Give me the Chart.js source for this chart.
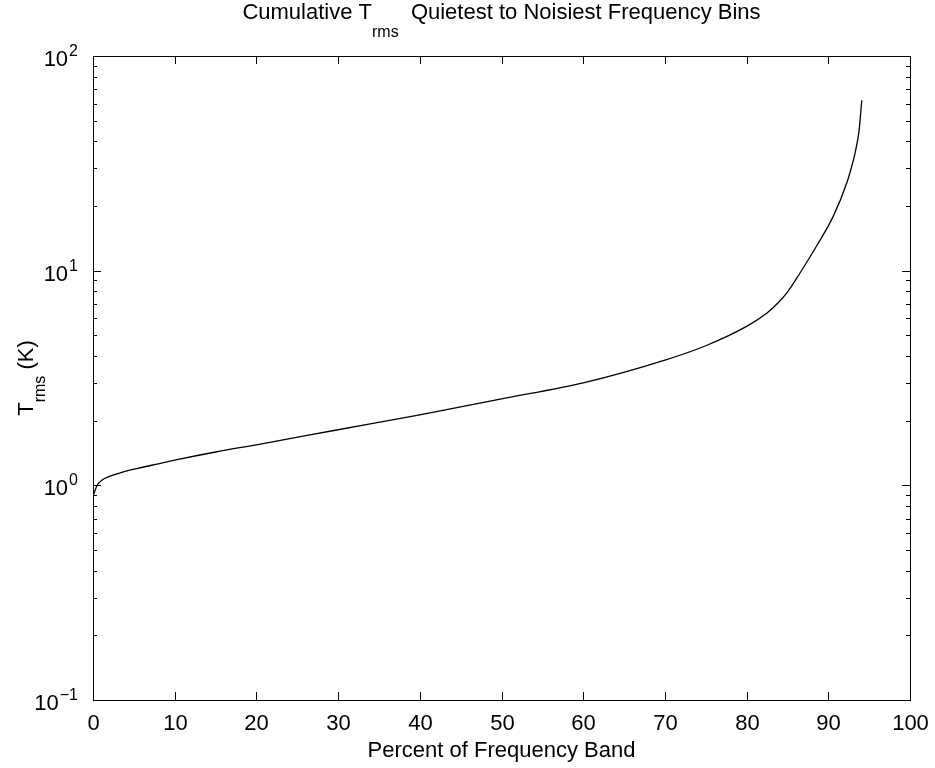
<!DOCTYPE html>
<html>
<head>
<meta charset="utf-8">
<script src="https://cdn.jsdelivr.net/npm/chart.js@4"></script>
<style>
  html, body { margin: 0; padding: 0; background: #fff; }
  #wrap { width: 935px; height: 768px; }
</style>
</head>
<body>
<div id="wrap"><canvas id="chart" width="935" height="768"></canvas></div>
<script>
// values
const percentBand = [0, 0.5, 1, 2, 3.5, 5.5, 8, 10, 15, 20, 30, 40, 50, 60, 70, 75, 80, 82.5, 83.8, 85, 86.5, 88.6, 90.6, 92.3, 93, 93.3, 93.75, 94.1];
const trmsValues = [0.89, 1.00, 1.05, 1.10, 1.148, 1.20, 1.26, 1.31, 1.43, 1.545, 1.815, 2.13, 2.53, 3.0, 3.83, 4.47, 5.5, 6.35, 7.05, 7.95, 9.7, 13.1, 17.9, 25.9, 32, 35.7, 44.4, 62.2];
const xTickValues = [0, 10, 20, 30, 40, 50, 60, 70, 80, 90, 100];
const yDecades = [-1, 0, 1, 2];

const FONT = '"Liberation Sans", Arial, Helvetica, sans-serif';

const matlabAxes = {
  id: 'matlabAxes',
  afterDraw(chart) {
    const ctx = chart.ctx;
    const xs = chart.scales.x, ys = chart.scales.y;
    const a = chart.chartArea;
    ctx.save();
    ctx.strokeStyle = '#000';
    ctx.fillStyle = '#000';
    ctx.lineWidth = 1;
    ctx.strokeRect(Math.round(a.left) + 0.5, Math.round(a.top) + 0.5, Math.round(a.right - a.left), Math.round(a.bottom - a.top));

    // x ticks + labels
    ctx.font = '22px ' + FONT;
    ctx.textAlign = 'center';
    ctx.textBaseline = 'alphabetic';
    xTickValues.forEach(v => {
      const px = Math.round(xs.getPixelForValue(v)) + 0.5;
      ctx.beginPath();
      ctx.moveTo(px, a.bottom); ctx.lineTo(px, a.bottom - 8);
      ctx.moveTo(px, a.top); ctx.lineTo(px, a.top + 8);
      ctx.stroke();
      ctx.fillText(String(v), px, 730);
    });

    // y ticks (major + minor) + labels
    yDecades.forEach(d => {
      const py = Math.round(ys.getPixelForValue(Math.pow(10, d))) + 0.5;
      ctx.beginPath();
      ctx.moveTo(a.left, py); ctx.lineTo(a.left + 8, py);
      ctx.moveTo(a.right, py); ctx.lineTo(a.right - 8, py);
      ctx.stroke();
      if (d < 2) {
        for (let k = 2; k <= 9; k++) {
          const my = Math.round(ys.getPixelForValue(k * Math.pow(10, d))) + 0.5;
          ctx.beginPath();
          ctx.moveTo(a.left, my); ctx.lineTo(a.left + 4, my);
          ctx.moveTo(a.right, my); ctx.lineTo(a.right - 4, my);
          ctx.stroke();
        }
      }
      const sup = d < 0 ? '\u2212' + Math.abs(d) : String(d);
      ctx.textAlign = 'left';
      ctx.font = '16px ' + FONT;
      const supW = ctx.measureText(sup).width;
      const supX = a.left - 15 - supW;
      ctx.fillText(sup, supX, py - 1);
      ctx.font = '22px ' + FONT;
      ctx.textAlign = 'right';
      ctx.fillText('10', supX - 1, py + 9);
    });

    // title with subscript
    const t1 = 'Cumulative T', t2 = 'rms', t3 = '  Quietest to Noisiest Frequency Bins';
    ctx.font = '22px ' + FONT;
    const w1 = ctx.measureText(t1).width, w3 = ctx.measureText(t3).width;
    ctx.font = '16px ' + FONT;
    const w2 = ctx.measureText(t2).width;
    const cx = (a.left + a.right) / 2;
    let tx = cx - (w1 + w2 + w3) / 2;
    ctx.textAlign = 'left';
    ctx.font = '22px ' + FONT;
    ctx.fillText(t1, tx, 19);
    ctx.font = '16px ' + FONT;
    ctx.fillText(t2, tx + w1, 37);
    ctx.font = '22px ' + FONT;
    ctx.fillText(t3, tx + w1 + w2, 19);

    // x axis title
    ctx.textAlign = 'center';
    ctx.fillText('Percent of Frequency Band', cx, 757);

    // y axis title, rotated
    const cy = (a.top + a.bottom) / 2;
    ctx.translate(33, cy);
    ctx.rotate(-Math.PI / 2);
    ctx.font = '22px ' + FONT;
    const yw1 = ctx.measureText('T').width, yw3 = ctx.measureText(' (K)').width;
    ctx.font = '16px ' + FONT;
    const yw2 = ctx.measureText('rms').width;
    let yx = -(yw1 + yw2 + yw3) / 2;
    ctx.textAlign = 'left';
    ctx.font = '22px ' + FONT;
    ctx.fillText('T', yx, 0);
    ctx.font = '16px ' + FONT;
    ctx.fillText('rms', yx + yw1, 12);
    ctx.font = '22px ' + FONT;
    ctx.fillText(' (K)', yx + yw1 + yw2, 0);
    ctx.restore();
  }
};

new Chart(document.getElementById('chart'), {
  type: 'line',
  data: {
    datasets: [{
      data: percentBand.map((p, i) => ({ x: p, y: trmsValues[i] })),
      borderColor: '#000',
      borderWidth: 1.3,
      pointRadius: 0,
      fill: false,
      cubicInterpolationMode: 'monotone'
    }]
  },
  options: {
    responsive: false,
    animation: false,
    layout: { padding: { top: 56, right: 25, left: 0, bottom: 0 } },
    plugins: { legend: { display: false }, tooltip: { enabled: false } },
    scales: {
      x: {
        type: 'linear', min: 0, max: 100,
        grid: { display: false }, border: { display: false },
        ticks: { display: false },
        afterFit: s => { s.height = 68; }
      },
      y: {
        type: 'logarithmic', min: 0.1, max: 100,
        grid: { display: false }, border: { display: false },
        ticks: { display: false },
        afterFit: s => { s.width = 93; }
      }
    }
  },
  plugins: [matlabAxes]
});
</script>
</body>
</html>
